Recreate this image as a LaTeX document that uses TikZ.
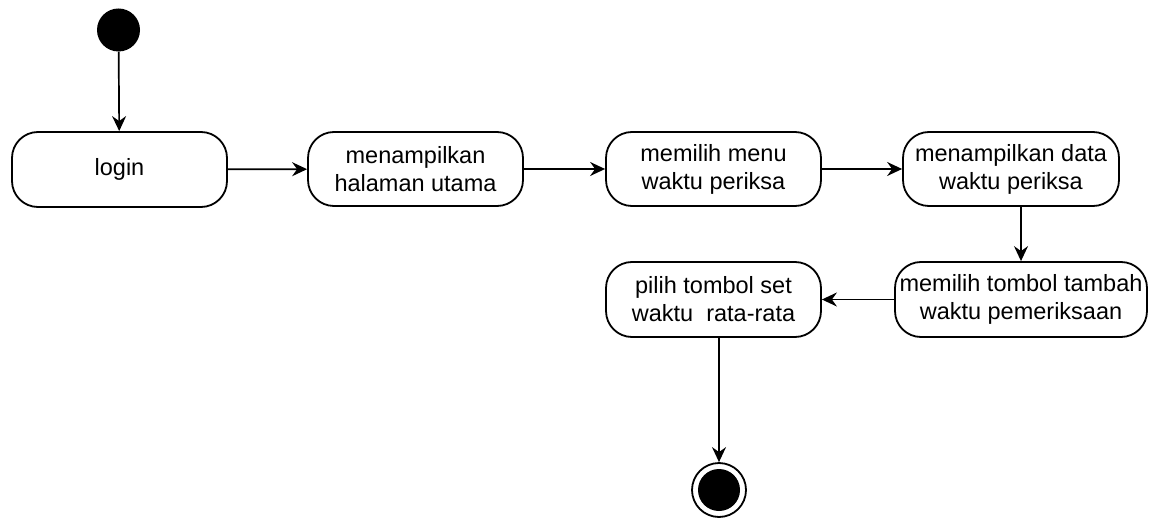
\documentclass[tikz,border=0pt]{standalone}
\usepackage{fontspec}
\setmainfont{Liberation Sans}
\usetikzlibrary{arrows.meta}
\begin{document}
\begin{tikzpicture}[x=1pt,y=-1pt,
  action/.style={draw=black, line width=1.8pt, rounded corners=26pt, fill=white,
    minimum height=75pt, inner sep=2pt, align=center,
    font=\fontsize{23.5}{28}\selectfont},
  flow/.style={draw=black, line width=1.7pt,
    -{Stealth[length=15pt,width=14pt,inset=5pt]}},
  startdot/.style={circle, fill=black, minimum size=43pt, inner sep=0pt},
  enddot/.style={circle, draw=black, line width=1.8pt, fill=white, minimum size=54pt, inner sep=0pt,
    path picture={\fill[black] (path picture bounding box.center) circle (21pt);}}]
  \useasboundingbox (0,0) rectangle (1153,521);

  % initial and final states
  \node[startdot] (start) at (118.5,30) {};
  \node[enddot] (end) at (719,490) {};

  % actions
  \node[action, minimum width=215pt] (login) at (119.5,169.5) {login};
  \node[action, minimum width=215pt, minimum height=74pt] (home) at (415.5,169) {menampilkan\\halaman utama};
  \node[action, minimum width=215pt, minimum height=74pt] (menu) at (713.5,169) {memilih menu\\waktu periksa};
  \node[action, minimum width=216pt, minimum height=74pt] (data) at (1011,169) {menampilkan data\\waktu periksa};
  \node[action, minimum width=252pt] (tambah) at (1021,299.5) {memilih tombol tambah\\waktu pemeriksaan};
  \node[action, minimum width=215pt] (setrata) at (713.5,299.5) {pilih tombol set\\waktu\ \ rata-rata};

  % control flow
  \draw[flow] (start) -- (login);
  \draw[flow] (login) -- (home);
  \draw[flow] (home) -- (menu);
  \draw[flow] (menu) -- (data);
  \draw[flow] (data.south -| tambah.north) -- (tambah.north);
  \draw[flow] (tambah) -- (setrata);
  \draw[flow] (setrata.south -| end.north) -- (end.north);
\end{tikzpicture}
\end{document}
